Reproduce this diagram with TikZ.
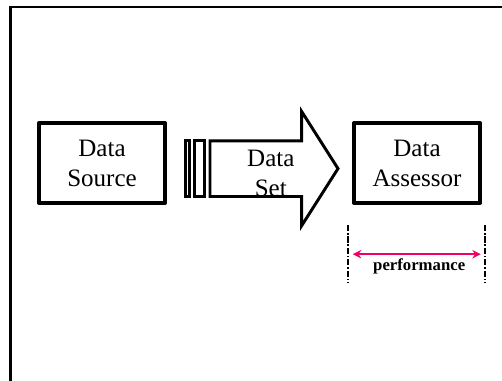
\documentclass[tikz,border=0pt]{standalone}
\usepackage{fontspec}
\setmainfont{Liberation Serif}
\usetikzlibrary{arrows.meta}
\definecolor{perfpink}{RGB}{240,0,100}

\begin{document}
\begin{tikzpicture}[
    block/.style={draw,line width=2.85pt,line join=round,minimum width=3.15cm,minimum height=2cm,
        inner sep=0pt,align=center,font=\fontsize{17.8}{21.4}\selectfont},
    flow/.style={draw,line width=2.1pt,line join=miter},
    limit/.style={line width=1.3pt,dash pattern=on 4.5pt off 1.2pt on 1.2pt off 1.2pt},
    measure/.style={perfpink,line width=1.3pt,{Stealth[length=6pt,width=6pt]}-{Stealth[length=6pt,width=6pt]}}
    ]
        \useasboundingbox (0,0) rectangle (12.55,9.525);
        % frame
        \draw[line width=1.6pt] (0.26,0) -- (0.26,9.35) -- (12.55,9.35);
        % blocks
        \node[block] (source) at (2.55,5.45) {Data\\Source};
        \node[block] (assessor) at (10.425,5.45) {Data\\Assessor};
        % data set arrow
        \coordinate (S1) at (4.645,6.005);
        \coordinate (S2) at (4.73,4.6125);
        \coordinate (S3) at (4.87,6.005);
        \coordinate (S4) at (5.105,4.6125);
        \draw[flow] (S1) rectangle (S2);
        \draw[flow] (S3) rectangle (S4);
        \draw[flow] (5.25,6.005) -- (7.54,6.005) -- (7.54,6.74) -- (8.45,5.31)
            -- (7.54,3.88) -- (7.54,4.6125) -- (5.25,4.6125) -- cycle;
        \node[align=center,inner sep=0pt,font=\fontsize{17.8}{21.4}\selectfont] (set) at (6.77,5.2) {Data\\Set};
        % performance
        \coordinate (L1) at (8.7,3.9);
        \coordinate (L2) at (8.7,2.46);
        \coordinate (R1) at (12.13,3.9);
        \coordinate (R2) at (12.13,2.46);
        \draw[limit] (L1) -- (L2);
        \draw[limit] (R1) -- (R2);
        \coordinate (P1) at (8.82,3.17);
        \coordinate (P2) at (12.02,3.17);
        \draw[measure] (P1) -- (P2);
        \node[anchor=base,inner sep=0pt,font=\fontsize{11.9}{14}\selectfont\bfseries] (perf) at (10.48,2.757) {performance};
    \end{tikzpicture}
\end{document}
